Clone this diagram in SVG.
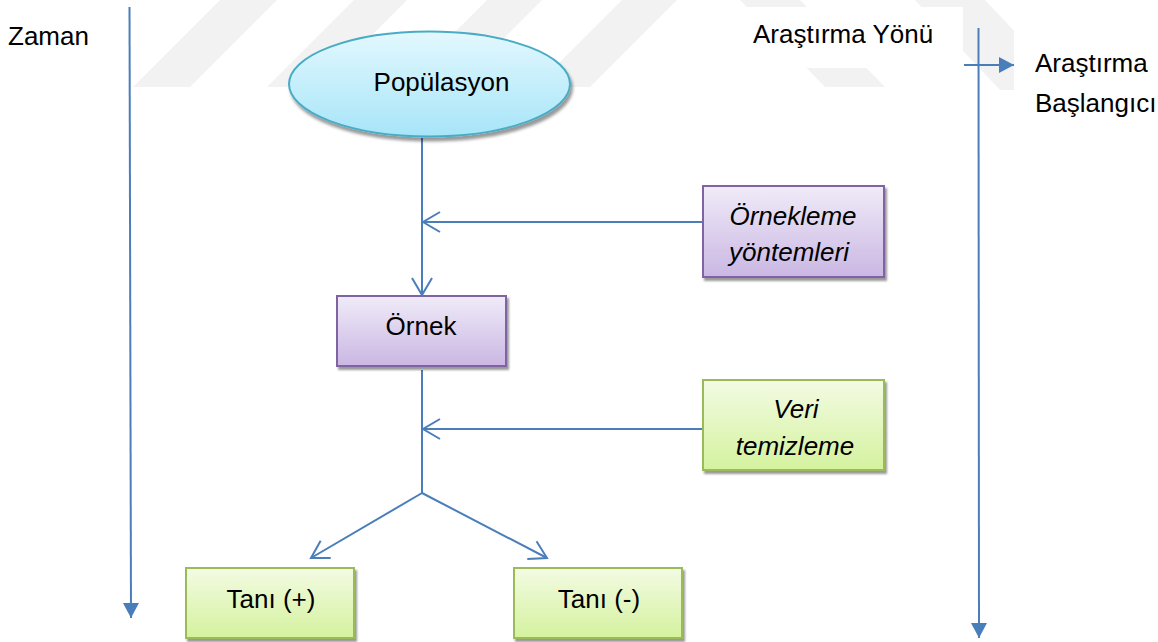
<svg xmlns="http://www.w3.org/2000/svg" width="1158" height="642" viewBox="0 0 1158 642">
  <defs>
    <style>
      text { font-family: "Liberation Sans", Arial, sans-serif; font-size: 26px; fill: #000; }
      .mid { text-anchor: middle; }
      .it { font-style: italic; }
      .wm { fill: #f2f2f2; }
      .link { fill: none; stroke: #4a7ebb; stroke-width: 2; }
      .purple { fill: url(#gPurple); stroke: #8064a2; stroke-width: 2; filter: url(#shadow); }
      .green { fill: url(#gGreen); stroke: #9bbb59; stroke-width: 2; filter: url(#shadow); }
      .aqua { fill: url(#gAqua); stroke: #4aacc5; stroke-width: 2; filter: url(#shadowBig); }
    </style>
    <linearGradient id="gAqua" x1="0" y1="0" x2="0" y2="1">
      <stop offset="0" stop-color="#e3f8fe"/>
      <stop offset="1" stop-color="#a7e5f8"/>
    </linearGradient>
    <linearGradient id="gPurple" x1="0" y1="0" x2="0" y2="1">
      <stop offset="0" stop-color="#f0ebf8"/>
      <stop offset="1" stop-color="#cab7e3"/>
    </linearGradient>
    <linearGradient id="gGreen" x1="0" y1="0" x2="0" y2="1">
      <stop offset="0" stop-color="#f3fbe3"/>
      <stop offset="1" stop-color="#d4f29e"/>
    </linearGradient>
    <filter id="shadow" x="-10%" y="-10%" width="125%" height="130%">
      <feDropShadow dx="2" dy="3" stdDeviation="1.2" flood-color="#000" flood-opacity="0.4"/>
    </filter>
    <filter id="shadowBig" x="-10%" y="-10%" width="125%" height="135%">
      <feDropShadow dx="2" dy="4" stdDeviation="1.5" flood-color="#000" flood-opacity="0.4"/>
    </filter>
    <!-- open chevron head -->
    <marker id="open" markerUnits="userSpaceOnUse" viewBox="-20 -12 22 24" markerWidth="22" markerHeight="24" refX="0" refY="0" orient="auto" overflow="visible">
      <path d="M-17,-10 L0,0 L-17,10" fill="none" stroke="#4a7ebb" stroke-width="2"/>
    </marker>
    <!-- solid triangle head -->
    <marker id="solid" markerUnits="userSpaceOnUse" viewBox="-16 -9 17 18" markerWidth="17" markerHeight="18" refX="0" refY="0" orient="auto" overflow="visible">
      <path d="M-15,-8 L0,0 L-15,8 Z" fill="#4a7ebb"/>
    </marker>
  </defs>

  <rect width="1158" height="642" fill="#fff"/>

  <!-- faint background stripes -->
  <g id="backdrop">
    <polygon class="wm" points="133,87 190,87 277,0 220,0"/>
    <polygon class="wm" points="267,87 320,87 407,0 354,0"/>
    <polygon class="wm" points="400,87 455,87 542,0 487,0"/>
    <polygon class="wm" points="535,87 590,87 677,0 622,0"/>
    <polygon class="wm" points="740,0 800,0 885,87 825,87"/>
    <polygon class="wm" points="915,0 985,0 1070,90 1000,90"/>
    <rect x="743" y="7" width="220" height="61" fill="#fff"/>
    <rect x="1014" y="0" width="144" height="130" fill="#fff"/>
  </g>

  <!-- side labels -->
  <g id="labels">
    <text x="8" y="45">Zaman</text>
    <text x="753" y="43">Araştırma Yönü</text>
    <text x="1035" y="72">Araştırma</text>
    <text x="1035" y="112">Başlangıcı</text>
  </g>

  <!-- connectors -->
  <g id="connectors">
    <path class="link" d="M129.5,7 L131,618" marker-end="url(#solid)"/>
    <path class="link" d="M978.5,28 L979,638" marker-end="url(#solid)"/>
    <path class="link" d="M964,65 L1014,65" marker-end="url(#solid)"/>
    <path class="link" d="M422,138 L422,295" marker-end="url(#open)"/>
    <path class="link" d="M703,222 L423,222" marker-end="url(#open)"/>
    <path class="link" d="M422,370 L422,493"/>
    <path class="link" d="M422,493 L311,558" marker-end="url(#open)"/>
    <path class="link" d="M422,493 L547,558" marker-end="url(#open)"/>
    <path class="link" d="M703,429 L423,429" marker-end="url(#open)"/>
  </g>

  <g id="populasyon">
    <ellipse class="aqua" cx="429.5" cy="84" rx="140.5" ry="52.5"/>
    <text class="mid" x="441.5" y="91">Popülasyon</text>
  </g>

  <g id="ornekleme">
    <rect class="purple" x="703" y="186" width="181" height="91"/>
    <text class="mid it" x="793" y="225">Örnekleme</text>
    <text class="mid it" x="789" y="261">yöntemleri</text>
  </g>

  <g id="ornek">
    <rect class="purple" x="337" y="296" width="169" height="70"/>
    <text class="mid" x="421" y="335">Örnek</text>
  </g>

  <g id="veri">
    <rect class="green" x="703" y="380" width="181" height="90"/>
    <text class="mid it" x="796" y="418">Veri</text>
    <text class="mid it" x="795" y="455">temizleme</text>
  </g>

  <g id="tani-pos">
    <rect class="green" x="186" y="568" width="168" height="70"/>
    <text class="mid" x="271" y="608">Tanı (+)</text>
  </g>

  <g id="tani-neg">
    <rect class="green" x="514" y="568" width="168" height="70"/>
    <text class="mid" x="599" y="608">Tanı (-)</text>
  </g>
</svg>
